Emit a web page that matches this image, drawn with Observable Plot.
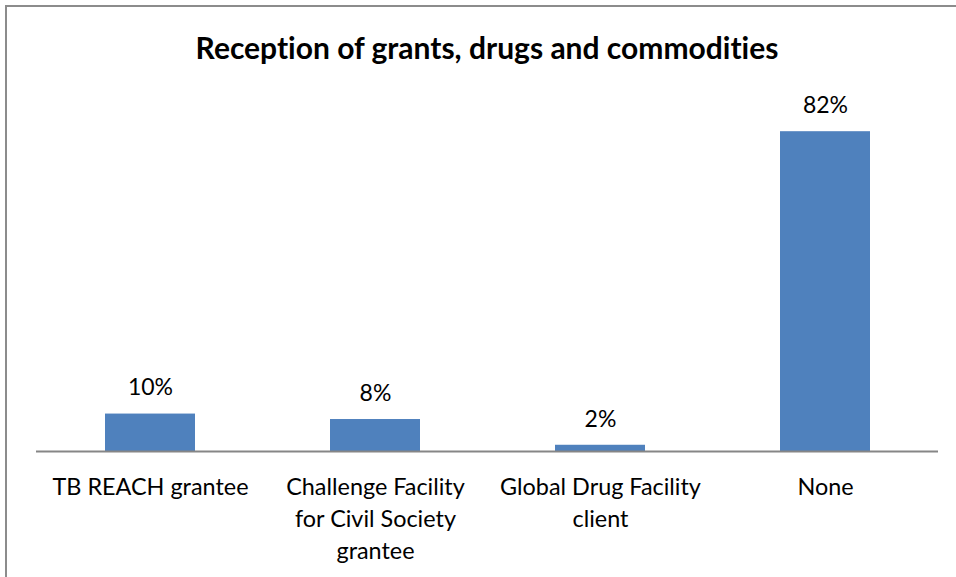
<!DOCTYPE html>
<html><head><meta charset="utf-8">
<script src="https://cdn.jsdelivr.net/npm/d3@7"></script>
<script src="https://cdn.jsdelivr.net/npm/@observablehq/plot@0.6"></script>
<style>
body{margin:0;background:#fff;}
#wrap{position:relative;width:956px;height:577px;overflow:hidden;background:#fff;}
#frame{position:absolute;left:5px;top:5px;width:1000px;height:700px;border:2px solid #8c8c8c;box-sizing:border-box;}
#title{position:absolute;left:0;top:29px;width:974px;text-align:center;font-family:Lato;font-weight:bold;font-size:30px;line-height:36px;color:#000;font-variant-ligatures:none;font-feature-settings:"liga" 0;}
#chart{position:absolute;left:0;top:0;}
#chart svg{font-variant-ligatures:none;}
</style></head>
<body>
<div id="wrap">
  <div id="frame"></div>
  <div id="chart"></div>
  <div id="title">Reception of grants, drugs and commodities</div>
</div>
<script>
const categories = ["TB REACH grantee", "Challenge Facility\nfor Civil Society\ngrantee", "Global Drug Facility\nclient", "None"];
const shares = [0.096, 0.082, 0.016, 0.82];

const data = categories.map((c, i) => ({category: c, share: shares[i]}));
const fmt = d3.format(".0%");

const chart = Plot.plot({
  width: 956,
  height: 577,
  marginTop: 100,
  marginBottom: 126,
  marginLeft: 36,
  marginRight: 18,
  style: {fontFamily: "Lato", color: "#000", background: "transparent", overflow: "visible"},
  x: {domain: categories, paddingInner: 0.6, paddingOuter: 0.3, axis: null},
  y: {domain: [0, 0.9], axis: null},
  marks: [
    Plot.barY(data, {x: "category", y: "share", fill: "#4F81BD"}),
    Plot.ruleY([0], {stroke: "#868686", strokeWidth: 2}),
    Plot.text(data, {x: "category", y: "share", text: d => fmt(d.share), dy: -26, fontSize: 23, fill: "#000"}),
    Plot.axisX({tickSize: 0, tickPadding: 21, fontSize: 23.4, lineHeight: 1.37, fill: "#000", label: null})
  ]
});
document.getElementById("chart").appendChild(chart);
</script>
</body></html>
